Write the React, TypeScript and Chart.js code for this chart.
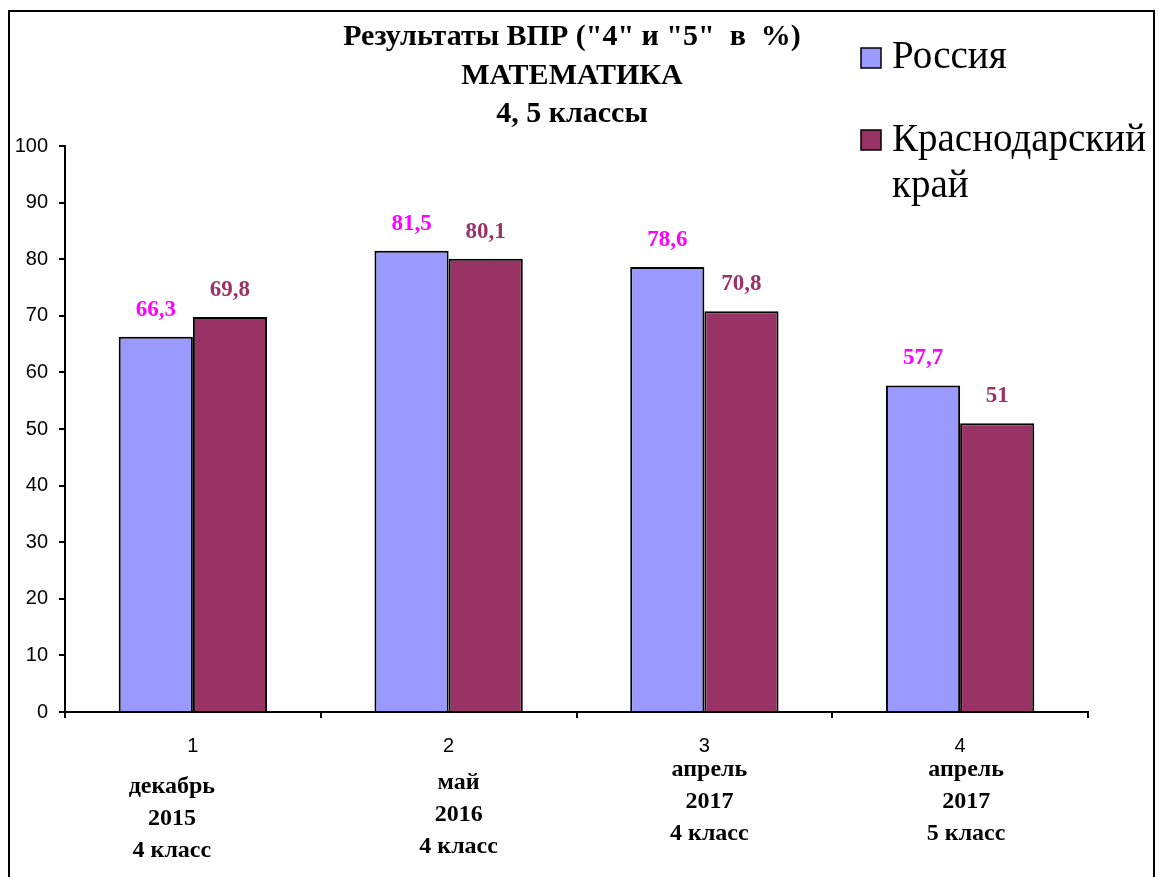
import React, { useEffect, useRef } from "react";
import { Chart, registerables } from "chart.js";

Chart.register(...registerables);

const categories = ["1", "2", "3", "4"];
const subLabels: string[][] = [
  ["декабрь", "2015", "4 класс"],
  ["май", "2016", "4 класс"],
  ["апрель", "2017", "4 класс"],
  ["апрель", "2017", "5 класс"],
];
const russia = [66.3, 81.5, 78.6, 57.7];
const krasnodar = [69.8, 80.1, 70.8, 51];
const russiaLabels = ["66,3", "81,5", "78,6", "57,7"];
const krasnodarLabels = ["69,8", "80,1", "70,8", "51"];
const seriesNames = ["Россия", "Краснодарский край"];
const titleLines = ['Результаты ВПР ("4" и "5"  в  %)', "МАТЕМАТИКА", "4, 5 классы"];

// layout of sub-labels (offset from category center, first-line y)
const subLabelDx = [-21, 10, 5, 6];
const subLabelY0 = [787, 783, 770, 770];

const RUSSIA_COLOR = "#9999FF";
const KRAS_COLOR = "#993366";
const RUSSIA_LABEL_COLOR = "#FF00FF";
const SERIF = '"Liberation Serif", "Times New Roman", serif';
const SANS = '"Liberation Sans", Arial, sans-serif';

const decorPlugin = {
  id: "decor",
  afterDraw(chart: any) {
    const ctx = chart.ctx;
    ctx.save();
    // frame
    ctx.strokeStyle = "#000";
    ctx.lineWidth = 2;
    ctx.strokeRect(9, 11, 1145, 900);

    // title
    ctx.fillStyle = "#000";
    ctx.font = `bold 30px ${SERIF}`;
    ctx.textAlign = "center";
    ctx.textBaseline = "middle";
    const tY = [37, 76, 114];
    titleLines.forEach((t, i) => ctx.fillText(t, 572, tY[i]));

    // legend
    ctx.textAlign = "left";
    ctx.font = `39px ${SERIF}`;
    ctx.lineWidth = 1.5;
    const drawBox = (y: number, color: string) => {
      ctx.fillStyle = color;
      ctx.fillRect(861, y - 10, 20, 20);
      ctx.strokeStyle = "#000";
      ctx.strokeRect(861, y - 10, 20, 20);
    };
    drawBox(58, RUSSIA_COLOR);
    ctx.fillStyle = "#000";
    ctx.fillText("Россия", 892, 58);
    drawBox(140, KRAS_COLOR);
    ctx.fillStyle = "#000";
    ctx.fillText("Краснодарский", 892, 141);
    ctx.fillText("край", 892, 187);

    // data labels
    ctx.font = `bold 23px ${SERIF}`;
    ctx.textAlign = "center";
    const labelSets = [russiaLabels, krasnodarLabels];
    const labelColors = [RUSSIA_LABEL_COLOR, KRAS_COLOR];
    chart.data.datasets.forEach((_: any, di: number) => {
      const meta = chart.getDatasetMeta(di);
      meta.data.forEach((bar: any, i: number) => {
        ctx.fillStyle = labelColors[di];
        ctx.fillText(labelSets[di][i], bar.x, bar.y - 27);
      });
    });

    // category sub-labels
    const xs = chart.scales.x;
    ctx.fillStyle = "#000";
    ctx.font = `bold 24px ${SERIF}`;
    subLabels.forEach((lines, i) => {
      const cx = xs.getPixelForValue(i) + subLabelDx[i];
      lines.forEach((l, j) => ctx.fillText(l, cx, subLabelY0[i] + j * 32));
    });
    ctx.restore();
  },
};

export default function App() {
  const ref = useRef<HTMLCanvasElement>(null);
  useEffect(() => {
    if (!ref.current) return;
    const chart = new Chart(ref.current, {
      type: "bar",
      data: {
        labels: categories,
        datasets: [
          {
            label: seriesNames[0],
            data: russia,
            backgroundColor: RUSSIA_COLOR,
            borderColor: "#000",
            borderWidth: 2,
            categoryPercentage: 0.58,
            barPercentage: 1,
          },
          {
            label: seriesNames[1],
            data: krasnodar,
            backgroundColor: KRAS_COLOR,
            borderColor: "#000",
            borderWidth: 2,
            categoryPercentage: 0.58,
            barPercentage: 1,
          },
        ],
      },
      options: {
        responsive: false,
        animation: false,
        layout: { padding: { left: 8, top: 146, right: 71, bottom: 10 } },
        plugins: { legend: { display: false }, title: { display: false }, tooltip: { enabled: false } },
        scales: {
          y: {
            min: 0,
            max: 100,
            ticks: { stepSize: 10, color: "#000", font: { family: SANS, size: 20 }, padding: 11 },
            grid: { drawOnChartArea: false, drawTicks: true, tickLength: 6, color: "#000", lineWidth: 2 },
            border: { color: "#000", width: 2 },
            afterFit: (s: any) => {
              s.width = 57;
            },
          },
          x: {
            ticks: { color: "#000", font: { family: SANS, size: 20 }, padding: 16 },
            grid: { offset: true, drawOnChartArea: false, drawTicks: true, tickLength: 6, color: "#000", lineWidth: 2 },
            border: { color: "#000", width: 2 },
            afterFit: (s: any) => {
              s.height = 155;
            },
          },
        },
      },
      plugins: [decorPlugin],
    });
    return () => chart.destroy();
  }, []);
  return (
    <div style={{ position: "absolute", left: 0, top: 0, width: 1159, height: 877, background: "#fff" }}>
      <canvas ref={ref} width={1159} height={877} style={{ display: "block" }} />
    </div>
  );
}
